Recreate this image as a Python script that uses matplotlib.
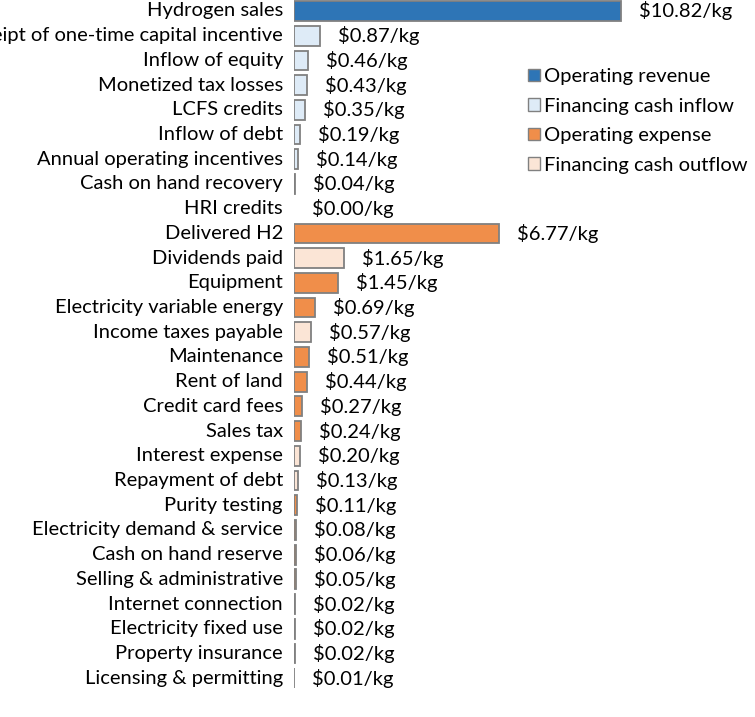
import matplotlib
matplotlib.use('Agg')
import matplotlib.pyplot as plt
from matplotlib.patches import Patch

# cost breakdown per kg H2
categories = [
    'Hydrogen sales', 'Receipt of one-time capital incentive', 'Inflow of equity',
    'Monetized tax losses', 'LCFS credits', 'Inflow of debt',
    'Annual operating incentives', 'Cash on hand recovery', 'HRI credits',
    'Delivered H2', 'Dividends paid', 'Equipment', 'Electricity variable energy',
    'Income taxes payable', 'Maintenance', 'Rent of land', 'Credit card fees',
    'Sales tax', 'Interest expense', 'Repayment of debt', 'Purity testing',
    'Electricity demand & service', 'Cash on hand reserve',
    'Selling & administrative', 'Internet connection', 'Electricity fixed use',
    'Property insurance', 'Licensing & permitting',
]
values = [
    10.82, 0.87, 0.46, 0.43, 0.35, 0.19, 0.14, 0.04, 0.00,
    6.77, 1.65, 1.45, 0.69, 0.57, 0.51, 0.44, 0.27, 0.24, 0.20, 0.13,
    0.11, 0.08, 0.06, 0.05, 0.02, 0.02, 0.02, 0.01,
]
groups = [
    'Operating revenue', 'Financing cash inflow', 'Financing cash inflow',
    'Financing cash inflow', 'Financing cash inflow', 'Financing cash inflow',
    'Financing cash inflow', 'Financing cash inflow', 'Financing cash inflow',
    'Operating expense', 'Financing cash outflow', 'Operating expense',
    'Operating expense', 'Financing cash outflow', 'Operating expense',
    'Operating expense', 'Operating expense', 'Operating expense',
    'Financing cash outflow', 'Financing cash outflow', 'Operating expense',
    'Operating expense', 'Operating expense', 'Operating expense',
    'Operating expense', 'Operating expense', 'Operating expense',
    'Operating expense',
]
legend_order = ['Operating revenue', 'Financing cash inflow',
                'Operating expense', 'Financing cash outflow']

colors = {
    'Operating revenue': '#2E75B6',
    'Financing cash inflow': '#DEEBF7',
    'Operating expense': '#F08E4A',
    'Financing cash outflow': '#FBE5D6',
}
edge = '#808080'
fs = 14.5

plt.rcParams['font.family'] = ['Lato', 'DejaVu Sans']

fig = plt.figure(figsize=(7.55, 7.17), dpi=100)
ax = fig.add_axes([294 / 755, 0, 461 / 755, 1])

ypos = list(range(len(categories)))
for y, v, g in zip(ypos, values, groups):
    ax.barh(y, v, height=0.8, color=colors[g], edgecolor=edge,
            linewidth=1.3 if v > 0 else 0)

for y, v in zip(ypos, values):
    ax.annotate(f'${v:.2f}/kg', xy=(v, y), xytext=(18, 0),
                textcoords='offset pixels', va='center', ha='left',
                fontsize=fs, color='black')
    # long labels run off the left edge, as in the original
    ax.annotate(categories[y], xy=(0, y), xytext=(-11, 0),
                textcoords='offset pixels', va='center', ha='right',
                fontsize=fs, color='black', annotation_clip=False)

ax.set_xlim(0, 15.26)
ax.set_ylim(28.57, -0.445)
ax.axis('off')

handles = [Patch(facecolor=colors[g], edgecolor=edge, linewidth=1.0, label=g)
           for g in legend_order]
fig.legend(handles=handles, loc='upper left', bbox_to_anchor=(520 / 755, 1 - 60 / 717),
           frameon=False, fontsize=fs, handlelength=0.6, handleheight=0.6,
           handletextpad=0.2, labelspacing=0.62, borderaxespad=0)

fig.savefig('out.png', dpi=100)
